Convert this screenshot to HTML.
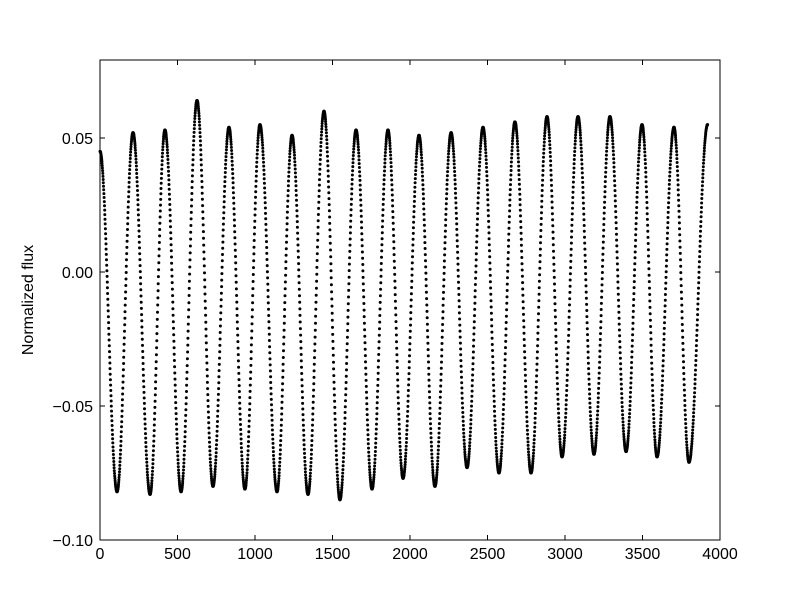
<!DOCTYPE html>
<html><head><meta charset="utf-8"><style>
body{margin:0;background:#fff;font-family:"Liberation Sans",sans-serif}
text{font-family:"Liberation Sans",sans-serif;font-size:16px}
</style></head><body>
<svg id="chart" width="800" height="600" xmlns="http://www.w3.org/2000/svg">
<rect width="800" height="600" fill="#fff"/>
<g id="dots"></g>
<rect x="100" y="60" width="620" height="480" fill="none" stroke="#000" stroke-width="1"/>
<g id="axes"></g>
<text transform="translate(33,300) rotate(-90)" text-anchor="middle">Normalized flux</text>
</svg>
<script>
const peakTimes=[0,213,419,626,832,1032,1239,1445,1652,1858,2058,2265,2471,2677,2884,3084,3290,3497,3703,3920];
const peakValues=[0.045,0.052,0.053,0.064,0.054,0.055,0.051,0.060,0.053,0.053,0.051,0.052,0.054,0.056,0.058,0.058,0.058,0.055,0.054,0.055];
const troughTimes=[110,323,523,729,935,1142,1342,1548,1755,1955,2161,2368,2574,2781,2981,3187,3394,3594,3800];
const troughValues=[-0.082,-0.083,-0.082,-0.080,-0.081,-0.082,-0.083,-0.085,-0.081,-0.077,-0.080,-0.073,-0.075,-0.075,-0.069,-0.068,-0.067,-0.069,-0.071];
const xTicks=[0,500,1000,1500,2000,2500,3000,3500,4000];
const yTicks=[-0.10,-0.05,0.00,0.05];
const yTickLabels=["\u22120.10","\u22120.05","0.00","0.05"];
const X=t=>100+t*620/4000;
const Y=v=>272-v*2680;
const NS="http://www.w3.org/2000/svg";
const dots=document.getElementById('dots');
const ext=[];
for(let i=0;i<peakTimes.length;i++){ext.push([peakTimes[i],peakValues[i]]);if(i<troughTimes.length)ext.push([troughTimes[i],troughValues[i]]);}
ext.sort((a,b)=>a[0]-b[0]);
for(let i=0;i<ext.length-1;i++){
  const [t0,v0]=ext[i],[t1,v1]=ext[i+1];
  for(let t=t0;t<t1;t+=1.2){
    const f=(1-Math.cos(Math.PI*(t-t0)/(t1-t0)))/2;
    const v=v0+(v1-v0)*f;
    const c=document.createElementNS(NS,'circle');
    
    
    c.setAttribute('cx',X(t).toFixed(1));c.setAttribute('cy',Y(v).toFixed(1));c.setAttribute('r','1.5');
    dots.appendChild(c);
  }
}
const axes=document.getElementById('axes');
function line(x1,y1,x2,y2){const l=document.createElementNS(NS,'line');l.setAttribute('x1',x1);l.setAttribute('y1',y1);l.setAttribute('x2',x2);l.setAttribute('y2',y2);l.setAttribute('stroke','#000');


axes.appendChild(l);}
function text(x,y,s,anchor){const t=document.createElementNS(NS,'text');t.setAttribute('x',x);t.setAttribute('y',y);t.setAttribute('text-anchor',anchor);t.textContent=s;


axes.appendChild(t);}
xTicks.forEach(v=>{const x=X(v);line(x,540,x,535);line(x,60,x,65);text(x,559,String(v),'middle');});
yTicks.forEach((v,i)=>{const y=Y(v);line(100,y,105,y);line(720,y,715,y);text(93,y+6,yTickLabels[i],'end');});
</script>
</body></html>
